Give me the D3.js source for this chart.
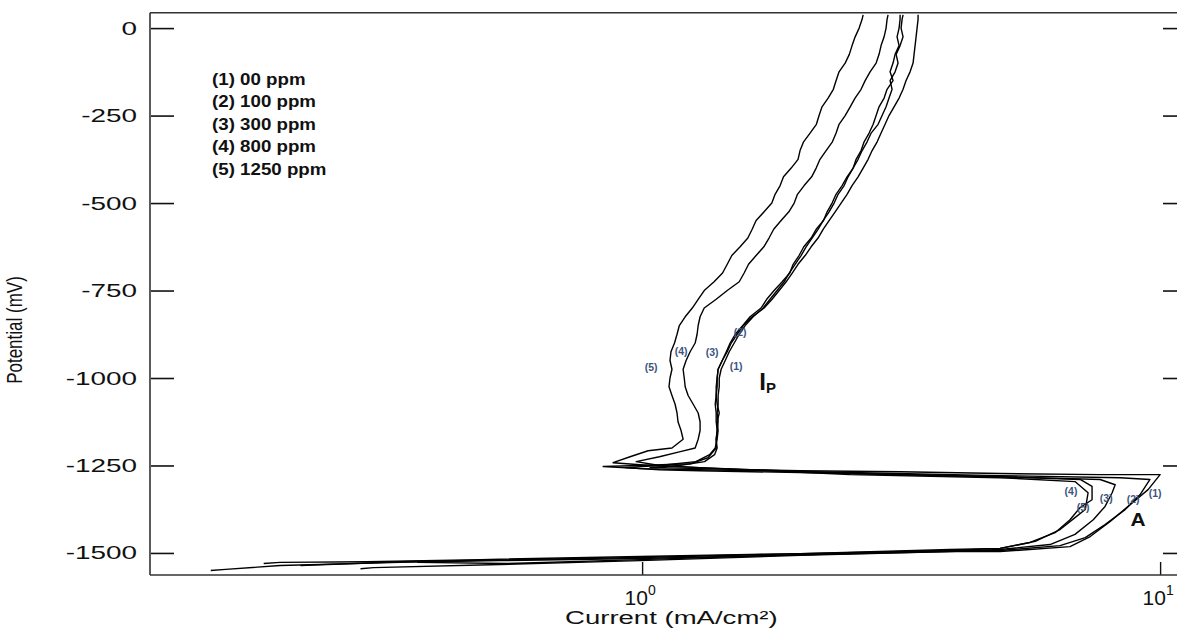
<!DOCTYPE html>
<html>
<head>
<meta charset="utf-8">
<script src="https://cdn.jsdelivr.net/npm/d3@7"></script>
<style>
  body { margin: 0; background: #fff; }
  svg { display: block; }
  text { font-family: Arial, "Liberation Sans", sans-serif; }
</style>
</head>
<body>
<svg id="chart" width="1177" height="630"></svg>
<script>
// ---- axis ticks and labels ----
const potentialTicks = [0, -250, -500, -750, -1000, -1250, -1500];
const currentTicks = [1, 10];
const currentTickExp = ["0", "1"];
const legendLabels = ["(1) 00 ppm", "(2) 100 ppm", "(3) 300 ppm", "(4) 800 ppm", "(5) 1250 ppm"];
const seriesTags = ["(1)", "(2)", "(3)", "(4)", "(5)"];

// ---- potential grid of the anodic branches (mV) ----
const anodicE = [-1200, -1175, -1150, -1125, -1100, -1075, -1050, -1025, -1000, -975,
  -950, -925, -900, -875, -850, -825, -800, -775, -750, -725,
  -700, -675, -650, -625, -600, -575, -550, -525, -500, -475,
  -450, -425, -400, -375, -350, -325, -300, -275, -250, -225,
  -200, -175, -150, -125, -100, -75, -50, -25, 0, 25, 38];

// anodic current density (mA/cm2) on that grid, one list per inhibitor level
const anodicI1 = [1.396, 1.390, 1.396, 1.390, 1.390, 1.384, 1.390, 1.390, 1.396, 1.402,
  1.428, 1.460, 1.486, 1.526, 1.567, 1.631, 1.720, 1.782, 1.839, 1.897,
  1.949, 2.000, 2.064, 2.120, 2.186, 2.236, 2.296, 2.359, 2.422, 2.487,
  2.543, 2.612, 2.671, 2.731, 2.780, 2.843, 2.893, 2.945, 2.997, 3.065,
  3.134, 3.190, 3.233, 3.291, 3.335, 3.350, 3.365, 3.380, 3.395, 3.410, 3.410];
const anodicI2 = [1.390, 1.390, 1.396, 1.402, 1.396, 1.402, 1.402, 1.409, 1.409, 1.421,
  1.447, 1.473, 1.506, 1.540, 1.581, 1.638, 1.713, 1.766, 1.822, 1.880,
  1.923, 1.974, 2.027, 2.073, 2.129, 2.186, 2.236, 2.296, 2.348, 2.390,
  2.455, 2.498, 2.554, 2.612, 2.659, 2.719, 2.768, 2.855, 2.906, 2.958,
  2.997, 3.038, 3.011, 3.079, 3.120, 3.093, 3.148, 3.190, 3.162, 3.176, 3.190];
const anodicI3 = [1.384, 1.396, 1.402, 1.396, 1.409, 1.396, 1.390, 1.396, 1.396, 1.402,
  1.428, 1.454, 1.479, 1.513, 1.565, 1.616, 1.697, 1.740, 1.798, 1.864,
  1.928, 1.957, 2.009, 2.052, 2.120, 2.168, 2.240, 2.276, 2.327, 2.368,
  2.433, 2.487, 2.556, 2.589, 2.647, 2.683, 2.743, 2.793, 2.830, 2.867,
  2.932, 2.971, 3.051, 3.011, 3.051, 3.079, 3.134, 3.106, 3.134, 3.148, 3.148];
const anodicI4 = [1.266, 1.283, 1.294, 1.294, 1.283, 1.255, 1.227, 1.211, 1.206, 1.200,
  1.216, 1.238, 1.266, 1.277, 1.283, 1.294, 1.318, 1.390, 1.460, 1.540,
  1.574, 1.605, 1.660, 1.718, 1.758, 1.795, 1.855, 1.920, 1.966, 1.995,
  2.055, 2.125, 2.168, 2.205, 2.266, 2.330, 2.369, 2.400, 2.466, 2.522,
  2.577, 2.647, 2.695, 2.755, 2.830, 2.867, 2.893, 2.932, 2.958, 2.971, 2.984];
const anodicI5 = [1.142, 1.200, 1.189, 1.173, 1.168, 1.158, 1.142, 1.127, 1.132, 1.142,
  1.132, 1.137, 1.155, 1.168, 1.180, 1.211, 1.250, 1.283, 1.318, 1.377,
  1.430, 1.460, 1.490, 1.546, 1.600, 1.631, 1.660, 1.720, 1.780, 1.806,
  1.847, 1.875, 1.940, 2.000, 2.018, 2.050, 2.110, 2.170, 2.196, 2.225,
  2.286, 2.340, 2.369, 2.400, 2.466, 2.512, 2.543, 2.578, 2.624, 2.659, 2.671];

// ---- cathodic sweep, peak A and return to the corrosion potential ----
const lowE1 = [-1550, -1547, -1536, -1527, -1522, -1516, -1505, -1496, -1496, -1482, -1453, -1410, -1362,
  -1319, -1276, -1276, -1273, -1268, -1265, -1259, -1256, -1256, -1250, -1239, -1219];
const lowI1 = [0.147, 0.157, 0.200, 0.341, 0.532, 0.991, 2.02, 3.93, 4.91, 6.70, 7.33, 8.01, 8.75,
  9.48, 10.0, 7.66, 4.91, 3.15, 2.02, 1.29, 1.08, 1.036, 1.18, 1.32, 1.38];
const lowE2 = [-1530, -1527, -1525, -1519, -1510, -1502, -1493, -1493, -1479, -1456, -1419, -1376,
  -1333, -1290, -1285, -1279, -1270, -1262, -1259, -1253, -1250, -1245, -1228];
const lowI2 = [0.186, 0.200, 0.294, 0.487, 0.991, 2.02, 3.93, 4.91, 6.41, 7.17, 7.83, 8.56,
  9.15, 9.56, 8.37, 4.91, 2.52, 1.29, 0.991, 0.841, 0.991, 1.24, 1.34];
const lowE3 = [-1545, -1542, -1533, -1522, -1507, -1496, -1490, -1476, -1447, -1405, -1367,
  -1328, -1305, -1290, -1282, -1273, -1265, -1262, -1256, -1250, -1239, -1219];
const lowI3 = [0.286, 0.303, 0.532, 0.991, 2.02, 3.93, 4.91, 6.13, 6.85, 7.43, 7.83,
  8.08, 8.19, 7.66, 4.91, 2.52, 1.29, 1.08, 0.927, 1.08, 1.27, 1.35];
const lowE4 = [-1527, -1530, -1519, -1505, -1493, -1487, -1470, -1442, -1405, -1370,
  -1348, -1310, -1290, -1282, -1273, -1256, -1250, -1239, -1225, -1211];
const lowI4 = [0.368, 0.549, 0.991, 2.02, 3.93, 4.91, 5.61, 6.27, 6.70, 7.01,
  7.39, 7.39, 7.01, 4.91, 2.52, 1.29, 1.08, 0.974, 1.08, 1.18];
const lowE5 = [-1536, -1525, -1513, -1502, -1490, -1487, -1467, -1433, -1399, -1376,
  -1328, -1296, -1285, -1276, -1256, -1250, -1242, -1225, -1208];
const lowI5 = [0.219, 0.341, 0.991, 2.02, 3.93, 4.91, 5.74, 6.41, 6.85, 7.17,
  7.26, 6.85, 4.91, 2.52, 1.29, 1.036, 0.879, 0.948, 1.027];

// ---- curve tags: [current, potential] anchors ----
const upperTagAt = [[1.519, -965], [1.546, -868], [1.365, -925], [1.189, -922], [1.041, -968]];
const lowerTagAt = [[9.78, -1330], [8.87, -1345], [7.87, -1342], [6.73, -1322], [7.10, -1368]];
const passiveMarkAt = [1.683, -1008];
const peakMarkAt = [9.07, -1402];

// ---- layout ----
const svg = d3.select("#chart");
const plotL = 150, plotR = 1187, plotT = 12.7, plotB = 575;

const x = d3.scaleLog().domain([0.1122, 11.27]).range([plotL, plotR]);
const y = d3.scaleLinear().domain([-1563, 44]).range([plotB, plotT]);

// stretched text helper (labels in this figure are drawn wide)
function label(parent, str, px, py, o) {
  const t = parent.append("text")
    .attr("transform", `translate(${px},${py}) scale(${o.sx || 1},1)` + (o.rotate ? ` rotate(${o.rotate})` : ""))
    .attr("text-anchor", o.anchor || "start")
    .attr("font-size", o.size)
    .attr("font-weight", o.weight || "normal")
    .attr("fill", o.fill || "#111");
  t.text(str);
  return t;
}

// ---- frame and ticks ----
const axes = svg.append("g");
axes.append("g")
  .attr("transform", `translate(${plotL},0)`)
  .call(d3.axisLeft(y).tickValues(potentialTicks).tickSize(-24).tickFormat(""))
  .call(g => g.select(".domain").remove())
  .call(g => g.selectAll(".tick line").attr("stroke", "#111").attr("stroke-width", 1.6));
axes.append("g")
  .attr("transform", `translate(${plotR},0)`)
  .call(d3.axisRight(y).tickValues(potentialTicks).tickSize(-24).tickFormat(""))
  .call(g => g.select(".domain").remove())
  .call(g => g.selectAll(".tick line").attr("stroke", "#111").attr("stroke-width", 1.6));
axes.append("g")
  .attr("transform", `translate(0,${plotB})`)
  .call(d3.axisBottom(x).tickValues(currentTicks).tickSize(-13).tickFormat(""))
  .call(g => g.select(".domain").remove())
  .call(g => g.selectAll(".tick line").attr("stroke", "#111").attr("stroke-width", 1.4));

axes.append("line").attr("x1", plotL).attr("x2", plotL).attr("y1", plotT).attr("y2", plotB)
  .attr("stroke", "#5a5a5a").attr("stroke-width", 2);
axes.append("line").attr("x1", plotL).attr("x2", plotR).attr("y1", plotT).attr("y2", plotT)
  .attr("stroke", "#333").attr("stroke-width", 1.6);
axes.append("line").attr("x1", plotL).attr("x2", plotR).attr("y1", plotB).attr("y2", plotB)
  .attr("stroke", "#333").attr("stroke-width", 1.6);

// potential tick labels
potentialTicks.forEach(v => {
  label(axes, String(v), 137, y(v) + 6.5, { size: 18, anchor: "end", sx: 1.55 });
});

// current tick labels, 10^n
currentTicks.forEach((v, i) => {
  const t = axes.append("text")
    .attr("x", x(v) - 2).attr("y", 605)
    .attr("text-anchor", "middle")
    .attr("font-size", 21).attr("fill", "#111");
  t.append("tspan").text("10");
  t.append("tspan").attr("dy", -10).attr("font-size", 14).text(currentTickExp[i]);
});

label(axes, "Current (mA/cm²)", 565, 624, { size: 19, sx: 1.45 });
label(axes, "Potential (mV)", 22, 330, { size: 17, anchor: "middle", sx: 1.35, rotate: -90 });

// ---- curves ----
const lows = [[lowI1, lowE1], [lowI2, lowE2], [lowI3, lowE3], [lowI4, lowE4], [lowI5, lowE5]];
const highs = [anodicI1, anodicI2, anodicI3, anodicI4, anodicI5];
const curves = lows.map(([li, le], k) => {
  const pts = li.map((c, j) => [c, le[j]]);
  highs[k].forEach((c, j) => pts.push([c, anodicE[j]]));
  return pts;
});

const line = d3.line().x(d => x(d[0])).y(d => y(d[1]));
svg.append("g").selectAll("path").data(curves).join("path")
  .attr("d", line)
  .attr("fill", "none")
  .attr("stroke", "#000")
  .attr("stroke-width", 1.4)
  .attr("stroke-linejoin", "round");

// ---- legend ----
const legend = svg.append("g");
legendLabels.forEach((s, i) => {
  label(legend, s, 212, 85 + i * 22.4, { size: 16, weight: "bold", sx: 1.17 });
});

// ---- curve tags and marks ----
const tags = svg.append("g");
upperTagAt.concat(lowerTagAt).forEach((d, i) => {
  label(tags, seriesTags[i % 5], x(d[0]), y(d[1]) + 4, { size: 10, weight: "bold", anchor: "middle", fill: "#3c5680", sx: 1.05 });
});
const ip = tags.append("text")
  .attr("x", x(passiveMarkAt[0])).attr("y", y(passiveMarkAt[1]) + 9)
  .attr("font-size", 24).attr("font-weight", "bold").attr("fill", "#111");
ip.append("tspan").text("I");
ip.append("tspan").attr("dy", 3).attr("font-size", 15).text("P");
label(tags, "A", x(peakMarkAt[0]), y(peakMarkAt[1]) + 7, { size: 19, weight: "bold", anchor: "middle", sx: 1.1 });
</script>
</body>
</html>
